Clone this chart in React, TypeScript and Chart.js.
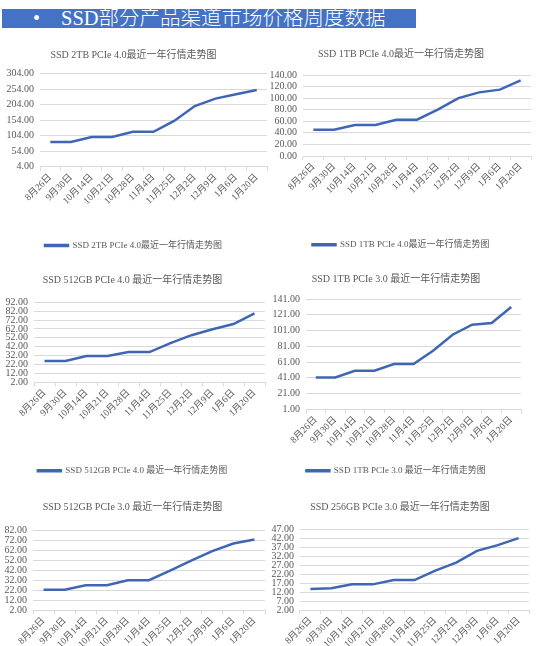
import React, { useEffect, useRef } from 'react';
import { Chart, registerables } from 'chart.js';

Chart.register(...registerables);

// ---- data ----
const categories = ['8月26日', '9月30日', '10月14日', '10月21日', '10月28日', '11月4日', '11月25日', '12月2日', '12月9日', '1月6日', '1月20日'];

const ssd2tbPcie4 = [84, 84, 100, 100, 117, 117, 152, 200, 224, 238, 252];
const ssd1tbPcie4 = [45.5, 45.5, 53.6, 53.6, 62.8, 62.8, 80, 100, 110, 114.7, 130.8];
const ssd512Pcie4 = [26, 26, 31.6, 31.6, 36, 36, 46, 55, 61.6, 67.5, 79.5];
const ssd1tbPcie3 = [41.4, 41.4, 50, 50, 58.5, 58.5, 75.4, 95.7, 108.4, 110.5, 130.8];
const ssd512Pcie3 = [22.5, 22.5, 27, 27, 32, 32, 41.5, 51.5, 61, 68.5, 72.5];
const ssd256Pcie3 = [13.7, 14.1, 16.3, 16.3, 18.7, 18.7, 24, 28.4, 35, 38.2, 42.1];

const yTicks2tb4 = [4, 54, 104, 154, 204, 254, 304];
const yTicks1tb4 = [0, 20, 40, 60, 80, 100, 120, 140];
const yTicks512_4 = [2, 12, 22, 32, 42, 52, 62, 72, 82, 92];
const yTicks1tb3 = [1, 21, 41, 61, 81, 101, 121, 141];
const yTicks512_3 = [2, 12, 22, 32, 42, 52, 62, 72, 82];
const yTicks256_3 = [2, 7, 12, 17, 22, 27, 32, 37, 42, 47];

const headerText = 'SSD部分产品渠道市场价格周度数据';

const titles = [
  'SSD 2TB PCIe 4.0最近一年行情走势图',
  'SSD 1TB PCIe 4.0最近一年行情走势图',
  'SSD 512GB PCIe 4.0 最近一年行情走势图',
  'SSD 1TB PCIe 3.0 最近一年行情走势图',
  'SSD 512GB PCIe 3.0 最近一年行情走势图',
  'SSD 256GB PCIe 3.0 最近一年行情走势图',
];

// ---- style ----
const LINE = '#3f66b5';
const GRID = '#d9d9d9';
const TEXT = '#595959';
const FONT = "'Liberation Serif', 'DejaVu Serif', 'Noto Sans CJK SC', serif";
const PAGE_H = 646;

type Spec = {
  title: string;
  data: number[];
  yTicks: number[];
  showLegend: boolean;
  left: number;
  width: number;
  titleY: number;
  plotTop: number;
  plotBottom: number;
  plotLeft: number;
  plotRight: number;
  legendY: number;
};

const specs: Spec[] = [
  { title: titles[0], data: ssd2tbPcie4, yTicks: yTicks2tb4, showLegend: true, left: 0, width: 271, titleY: 54.5, plotTop: 73.3, plotBottom: 166.3, plotLeft: 40, plotRight: 267, legendY: 245 },
  { title: titles[1], data: ssd1tbPcie4, yTicks: yTicks1tb4, showLegend: true, left: 271, width: 272, titleY: 54.3, plotTop: 75.3, plotBottom: 156.3, plotLeft: 303, plotRight: 531, legendY: 245 },
  { title: titles[2], data: ssd512Pcie4, yTicks: yTicks512_4, showLegend: true, left: 0, width: 271, titleY: 280, plotTop: 302.3, plotBottom: 382.3, plotLeft: 34, plotRight: 265, legendY: 470.7 },
  { title: titles[3], data: ssd1tbPcie3, yTicks: yTicks1tb3, showLegend: true, left: 271, width: 272, titleY: 279, plotTop: 299, plotBottom: 409.3, plotLeft: 306, plotRight: 521, legendY: 470.7 },
  { title: titles[4], data: ssd512Pcie3, yTicks: yTicks512_3, showLegend: false, left: 0, width: 271, titleY: 507, plotTop: 530, plotBottom: 610.3, plotLeft: 33, plotRight: 265, legendY: 0 },
  { title: titles[5], data: ssd256Pcie3, yTicks: yTicks256_3, showLegend: false, left: 271, width: 272, titleY: 507, plotTop: 529.3, plotBottom: 610, plotLeft: 300, plotRight: 529, legendY: 0 },
];

const TITLE_SIZE = 10;
const LEGEND_SIZE = 9;
const LEGEND_PAD = 10;

function boxOf(s: Spec) {
  const top = s.titleY - 14;
  const bottom = s.showLegend ? s.legendY + 14.5 : PAGE_H;
  return { top, height: bottom - top };
}

function LineChartBox({ spec }: { spec: Spec }) {
  const ref = useRef<HTMLCanvasElement>(null);
  const { top, height } = boxOf(spec);

  useEffect(() => {
    if (!ref.current) return;
    const titleLH = TITLE_SIZE * 1.2;
    const padTop = spec.titleY - top - titleLH / 2;
    const padBottom = spec.plotTop - spec.titleY - titleLH / 2;
    const legendH = spec.showLegend ? LEGEND_SIZE + LEGEND_PAD + 10 : 0;
    const xHeight = top + height - legendH - spec.plotBottom;
    const yWidth = spec.plotLeft - spec.left;
    const rightPad = spec.left + spec.width - spec.plotRight;
    const ticks = spec.yTicks;

    const chart = new Chart(ref.current, {
      type: 'line',
      data: {
        labels: categories,
        datasets: [
          {
            label: spec.title,
            data: spec.data,
            borderColor: LINE,
            backgroundColor: LINE,
            borderWidth: 2.5,
            pointRadius: 0,
            tension: 0,
            fill: false,
          },
        ],
      },
      options: {
        animation: false,
        responsive: true,
        maintainAspectRatio: false,
        layout: { padding: { left: 0, right: rightPad, top: 0, bottom: 0 } },
        plugins: {
          title: {
            display: true,
            text: spec.title,
            color: TEXT,
            font: { family: FONT, size: TITLE_SIZE, weight: 'normal', lineHeight: 1.2 },
            padding: { top: padTop, bottom: padBottom },
          },
          legend: {
            display: spec.showLegend,
            position: 'bottom',
            labels: {
              color: TEXT,
              font: { family: FONT, size: LEGEND_SIZE },
              boxWidth: 23,
              boxHeight: 1,
              padding: LEGEND_PAD,
            },
          },
          tooltip: { enabled: false },
        },
        scales: {
          x: {
            type: 'category',
            offset: true,
            grid: {
              display: true,
              drawOnChartArea: false,
              drawTicks: true,
              tickLength: 4,
              offset: true,
              color: GRID,
            },
            border: { display: true, color: GRID, width: 1 },
            ticks: {
              autoSkip: false,
              minRotation: 45,
              maxRotation: 45,
              color: TEXT,
              padding: 1,
              font: { family: FONT, size: 9.5 },
            },
            afterFit: (scale: any) => {
              scale.height = xHeight;
            },
          },
          y: {
            type: 'linear',
            min: ticks[0],
            max: ticks[ticks.length - 1],
            grid: { color: GRID, drawTicks: false },
            border: { display: false },
            ticks: {
              autoSkip: false,
              color: TEXT,
              padding: 6,
              font: { family: FONT, size: 10 },
              callback: (v: any) => Number(v).toFixed(2),
            },
            afterBuildTicks: (scale: any) => {
              scale.ticks = ticks.map((v) => ({ value: v }));
            },
            afterFit: (scale: any) => {
              scale.width = yWidth;
            },
          },
        },
      },
    } as any);
    return () => chart.destroy();
  }, []);

  return (
    <div style={{ position: 'absolute', left: spec.left, top, width: spec.width, height }}>
      <canvas ref={ref} />
    </div>
  );
}

export default function App() {
  return (
    <div
      style={{
        position: 'absolute',
        left: 0,
        top: 0,
        width: 543,
        height: 646,
        background: '#ffffff',
        overflow: 'hidden',
      }}
    >
      <div
        style={{
          position: 'absolute',
          left: 2,
          top: 9,
          width: 414,
          height: 19,
          background: '#4472c4',
          overflow: 'hidden',
        }}
      >
        <span
          style={{
            position: 'absolute',
            left: 31,
            top: -2,
            color: '#fff',
            fontFamily: FONT,
            fontSize: 20,
            lineHeight: '22px',
          }}
        >
          •
        </span>
        <span
          style={{
            position: 'absolute',
            left: 59,
            top: -2,
            color: '#fff',
            fontFamily: FONT,
            fontSize: 20.5,
            lineHeight: '22px',
            whiteSpace: 'nowrap',
            fontWeight: 300,
          }}
        >
          {headerText}
        </span>
      </div>
      {specs.map((s, i) => (
        <LineChartBox key={i} spec={s} />
      ))}
    </div>
  );
}
